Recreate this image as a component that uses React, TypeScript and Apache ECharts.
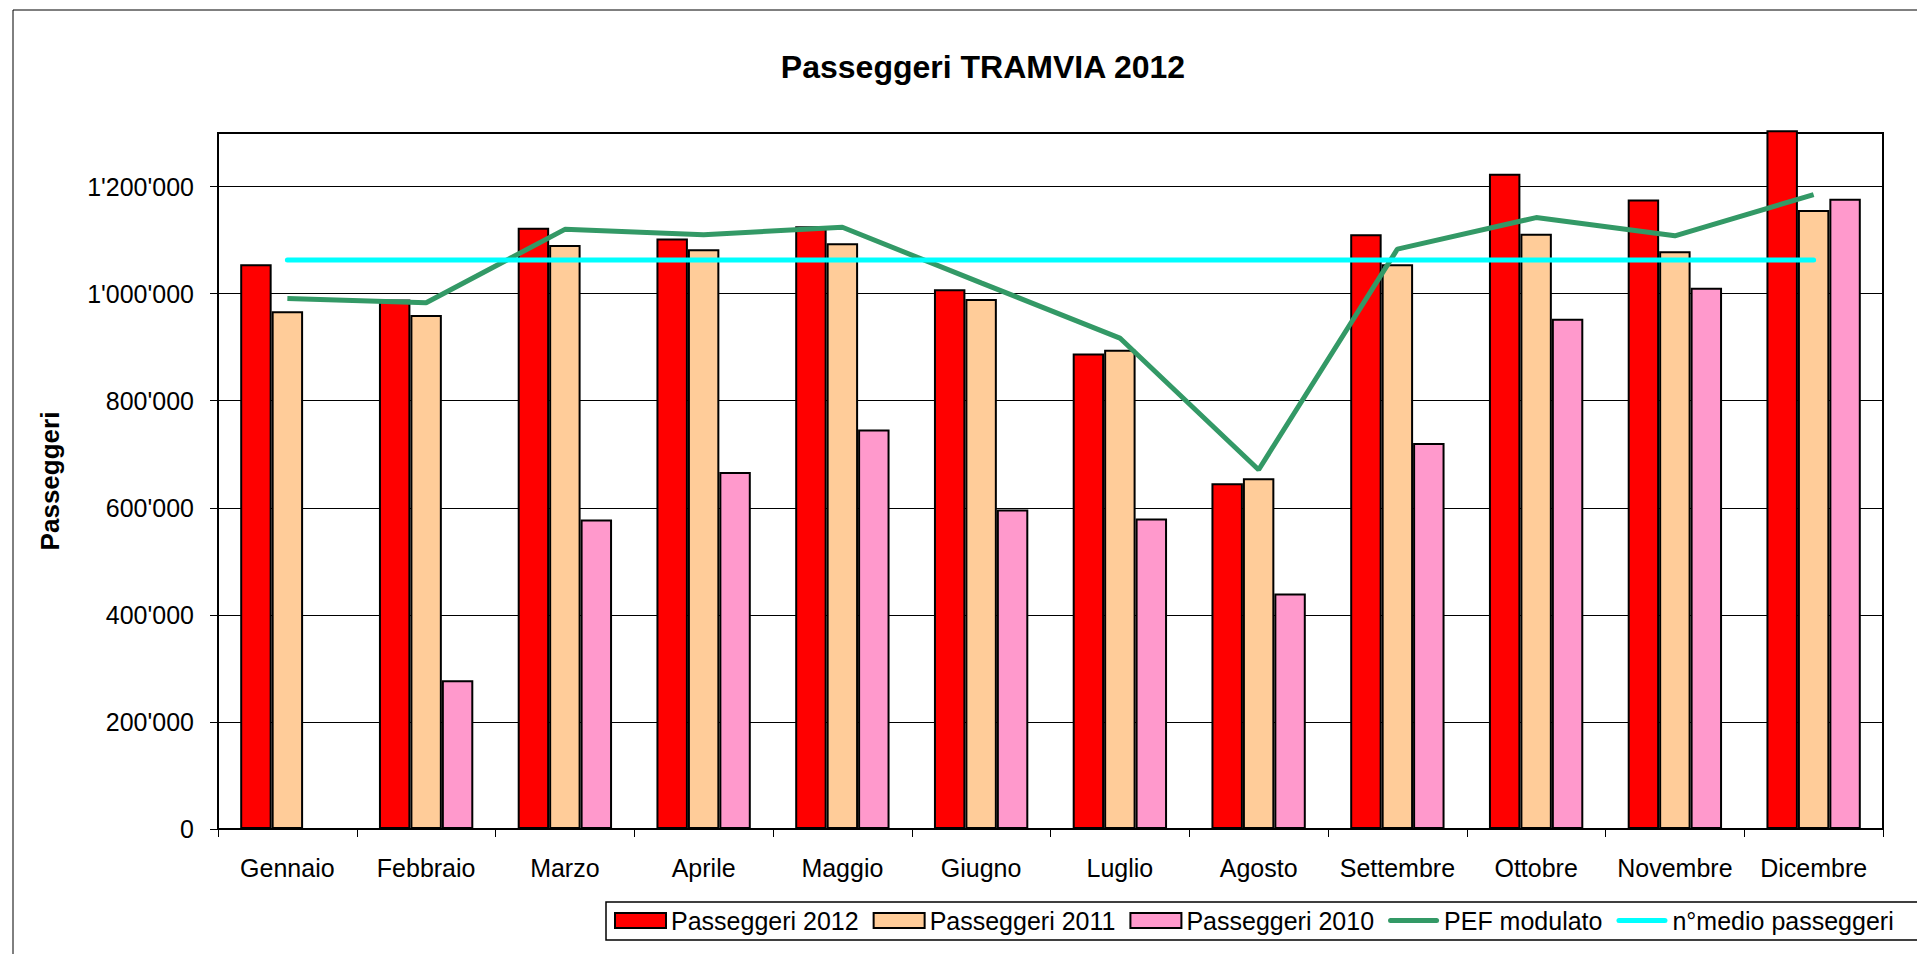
import React, { useEffect, useRef } from "react";
import * as echarts from "echarts";

const months = [
  "Gennaio", "Febbraio", "Marzo", "Aprile", "Maggio", "Giugno",
  "Luglio", "Agosto", "Settembre", "Ottobre", "Novembre", "Dicembre",
];
const passeggeri2012 = [1055000, 989000, 1123000, 1103000, 1126000, 1008000, 888000, 646000, 1111000, 1224000, 1176000, 1305000];
const passeggeri2011 = [967000, 960000, 1091000, 1083000, 1094000, 990000, 895000, 655000, 1055000, 1112000, 1079000, 1156000];
const passeggeri2010 = [null, 278000, 578000, 667000, 746000, 597000, 580000, 440000, 721000, 953000, 1011000, 1177000];
const pefModulato = [991000, 983000, 1120000, 1110000, 1124000, 1020000, 917000, 671000, 1083000, 1142000, 1108000, 1185000];
const medioPasseggeri = [1063000, 1063000, 1063000, 1063000, 1063000, 1063000, 1063000, 1063000, 1063000, 1063000, 1063000, 1063000];

const FONT = "'Liberation Sans', Arial, sans-serif";

const fmt = (v: number) => String(v).replace(/\B(?=(\d{3})+(?!\d))/g, "'");

const LINE_ICON = "path://M2.5,0 L48.5,0 A2.5,2.5 0 0 1 48.5,5 L2.5,5 A2.5,2.5 0 0 1 2.5,0 Z";

export default function App() {
  const ref = useRef<HTMLDivElement>(null);
  useEffect(() => {
    if (!ref.current) return;
    const chart = echarts.init(ref.current, undefined, { renderer: "svg" });
    const barStyle = (color: string) => ({ color, borderColor: "#000", borderWidth: 2 });
    chart.setOption({
      animation: false,
      backgroundColor: "#fff",
      textStyle: { fontFamily: FONT, color: "#000" },
      title: {
        text: "Passeggeri TRAMVIA 2012",
        left: 983,
        textAlign: "center",
        top: 51,
        padding: 0,
        textStyle: { fontFamily: FONT, fontSize: 32, fontWeight: "bold", color: "#000" },
      },
      graphic: [
        {
          type: "rect",
          shape: { x: 13, y: 10, width: 1930, height: 970 },
          style: { fill: "none", stroke: "#000", lineWidth: 1 },
          silent: true,
        },
        {
          type: "rect",
          shape: { x: 606, y: 902, width: 1330, height: 38 },
          style: { fill: "none", stroke: "#000", lineWidth: 1.5 },
          silent: true,
        },
      ],
      legend: {
        left: 614,
        top: 908,
        padding: 0,
        itemWidth: 51,
        itemHeight: 15,
        itemGap: 14,
        symbolKeepAspect: true,
        textStyle: { fontFamily: FONT, fontSize: 25, color: "#000" },
        data: [
          { name: "Passeggeri 2012", icon: "rect", itemStyle: { color: "#FF0000", borderColor: "#000", borderWidth: 2 } },
          { name: "Passeggeri 2011", icon: "rect", itemStyle: { color: "#FFCC99", borderColor: "#000", borderWidth: 2 } },
          { name: "Passeggeri 2010", icon: "rect", itemStyle: { color: "#FF99CC", borderColor: "#000", borderWidth: 2 } },
          { name: "PEF modulato", icon: LINE_ICON, itemStyle: { color: "#339966", borderWidth: 0 } },
          { name: "n°medio passeggeri", icon: LINE_ICON, itemStyle: { color: "#00FFFF", borderWidth: 0 } },
        ],
      },
      grid: {
        left: 218,
        right: 34,
        top: 133,
        bottom: 125,
        containLabel: false,
        show: true,
        borderColor: "#000",
        borderWidth: 2,
        backgroundColor: "transparent",
      },
      xAxis: {
        type: "category",
        data: months,
        boundaryGap: true,
        axisLine: { lineStyle: { color: "#000", width: 2 } },
        axisTick: { show: true, length: 8, lineStyle: { color: "#000", width: 1 } },
        axisLabel: { fontFamily: FONT, fontSize: 25, color: "#000", margin: 26, interval: 0 },
        splitLine: { show: false },
      },
      yAxis: {
        type: "value",
        min: 0,
        max: 1300000,
        interval: 200000,
        name: "Passeggeri",
        nameLocation: "middle",
        nameRotate: 90,
        nameGap: 155,
        nameTextStyle: { fontFamily: FONT, fontSize: 26, fontWeight: "bold", color: "#000" },
        axisLine: { show: true, lineStyle: { color: "#000", width: 2 } },
        axisTick: { show: true, length: 8, lineStyle: { color: "#000", width: 1 } },
        axisLabel: {
          fontFamily: FONT,
          fontSize: 25,
          color: "#000",
          margin: 24,
          showMaxLabel: false,
          formatter: (v: number) => fmt(v),
        },
        splitLine: { show: true, lineStyle: { color: "#000", width: 1 } },
      },
      series: [
        {
          name: "Passeggeri 2012",
          type: "bar",
          data: passeggeri2012,
          barGap: "0%",
          barCategoryGap: "32%",
          itemStyle: barStyle("#FF0000"),
          clip: false,
        },
        {
          name: "Passeggeri 2011",
          type: "bar",
          data: passeggeri2011,
          barGap: "0%",
          barCategoryGap: "32%",
          itemStyle: barStyle("#FFCC99"),
          clip: false,
        },
        {
          name: "Passeggeri 2010",
          type: "bar",
          data: passeggeri2010,
          barGap: "0%",
          barCategoryGap: "32%",
          itemStyle: barStyle("#FF99CC"),
          clip: false,
        },
        {
          name: "PEF modulato",
          type: "line",
          data: pefModulato,
          symbol: "none",
          showSymbol: false,
          itemStyle: { color: "#339966" },
          lineStyle: { color: "#339966", width: 5 },
          z: 5,
        },
        {
          name: "n°medio passeggeri",
          type: "line",
          data: medioPasseggeri,
          symbol: "none",
          showSymbol: false,
          itemStyle: { color: "#00FFFF" },
          lineStyle: { color: "#00FFFF", width: 5, cap: "round" },
          z: 6,
        },
      ],
    });
    return () => chart.dispose();
  }, []);
  return (
    <div
      ref={ref}
      style={{ position: "absolute", left: 0, top: 0, width: 1917, height: 954 }}
    />
  );
}
